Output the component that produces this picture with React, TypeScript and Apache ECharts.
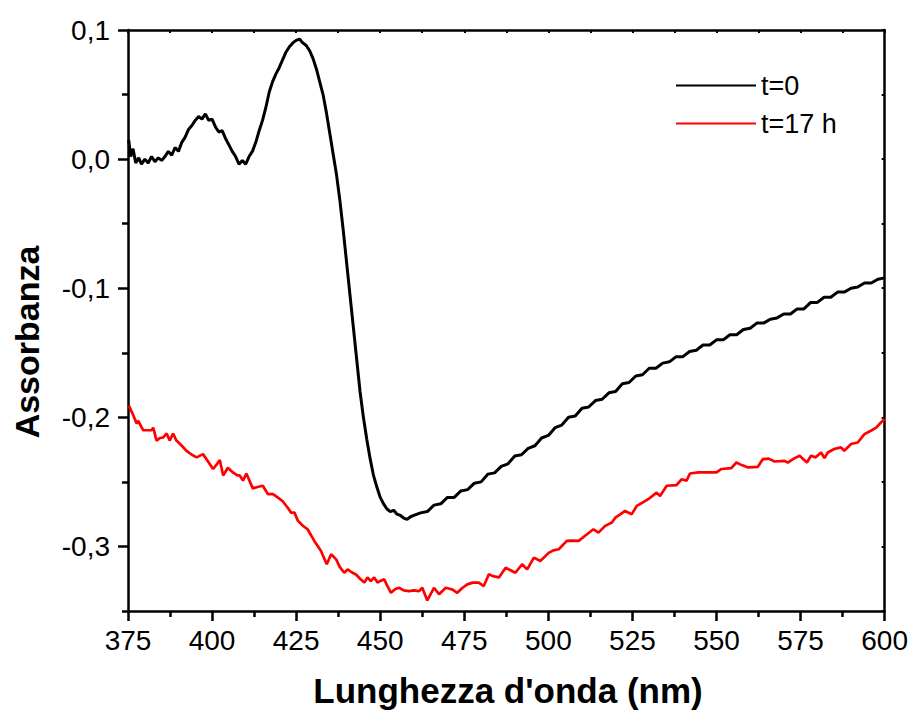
import React, { useEffect, useRef } from "react";
import * as echarts from "echarts";

const xTicks = [375, 400, 425, 450, 475, 500, 525, 550, 575, 600];
const yTickValues = [-0.3, -0.2, -0.1, 0, 0.1];
const yMinorTickValues = [-0.35, -0.25, -0.15, -0.05, 0.05];
const seriesNames = ["t=0", "t=17 h"];

const blackWavelength = [
  375.2, 375.8, 376.5, 377.3, 378.2, 379, 380, 381, 382, 383, 384, 385, 386, 387, 388, 389, 390,
  391, 392, 393, 394, 395, 396, 397, 398, 399, 400, 401, 402, 403, 404, 405, 406, 407, 408, 409,
  410, 411, 412, 413, 414, 415, 416, 417, 418, 419, 420, 421, 422, 423, 424, 425, 426, 427, 428,
  429, 430, 431, 432, 433, 434, 435, 436, 437, 438, 439, 440, 441, 442, 443, 444, 445, 446, 447,
  448, 449, 450, 451, 452, 453, 454, 455, 456, 457, 458, 459, 460,
  462, 464, 466, 468, 470, 472, 474, 476, 478, 480, 482, 484, 486, 488, 490, 492, 494, 496, 498, 500,
  502, 504, 506, 508, 510, 512, 514, 516, 518, 520, 522, 524, 526, 528, 530, 532, 534, 536, 538, 540,
  542, 544, 546, 548, 550, 552, 554, 556, 558, 560, 562, 564, 566, 568, 570, 572, 574, 576, 578, 580,
  582, 584, 586, 588, 590, 592, 594, 596, 598, 600,
];
const blackAbsorbance = [
  0.015, 0.002, 0.008, -0.003, 0.001, -0.004, 0.0, -0.003, 0.002, -0.002,
  0.001, -0.001, 0.002, 0.006, 0.003, 0.009, 0.006, 0.013, 0.017, 0.023,
  0.026, 0.03, 0.033, 0.031, 0.035, 0.03, 0.031, 0.025, 0.021, 0.022,
  0.016, 0.011, 0.006, 0.002, -0.004, -0.001, -0.004, 0.002, 0.006, 0.013,
  0.022, 0.03, 0.04, 0.052, 0.06, 0.066, 0.071, 0.077, 0.083, 0.087,
  0.09, 0.092, 0.093, 0.09, 0.088, 0.084, 0.078, 0.07, 0.06, 0.05,
  0.036, 0.02, 0.004, -0.012, -0.032, -0.055, -0.08, -0.105, -0.13, -0.155,
  -0.18, -0.2, -0.217, -0.232, -0.245, -0.254, -0.262, -0.267, -0.271, -0.273,
  -0.272, -0.275, -0.276, -0.278, -0.279, -0.277, -0.276,
  -0.274, -0.273, -0.268, -0.267, -0.262, -0.262, -0.257, -0.256, -0.251, -0.25,
  -0.244, -0.243, -0.238, -0.236, -0.23, -0.229, -0.224, -0.222, -0.216, -0.214,
  -0.208, -0.206, -0.2, -0.199, -0.193, -0.192, -0.187, -0.186, -0.181, -0.18,
  -0.174, -0.173, -0.168, -0.167, -0.162, -0.162, -0.158, -0.157, -0.153, -0.153,
  -0.149, -0.148, -0.144, -0.144, -0.14, -0.14, -0.136, -0.136, -0.132, -0.131,
  -0.127, -0.127, -0.124, -0.123, -0.12, -0.12, -0.116, -0.116, -0.111, -0.111,
  -0.107, -0.107, -0.103, -0.103, -0.1, -0.099, -0.096, -0.096, -0.093, -0.092,
];

const redWavelength = [
  375.3, 376.5, 377.6, 378, 379.5, 381, 382, 382.5, 383.5, 384.5, 385.5, 386.5, 387.4, 388.4, 389.4,
  391, 392.4, 394, 395.4, 397.3, 399, 400.3, 401.5, 402.3, 403.3, 404.7, 406.2, 407.5, 408.2, 409.2,
  410.2, 412.1, 413.5, 415.1, 416.6, 418.1, 419.5, 421, 422.5, 423.5, 424.5, 425.5, 427, 428.4, 430.4,
  432.4, 434.1, 435.4, 436.9, 438, 439.3, 440.3, 441.5, 442.8, 444, 445.3, 446.2, 447.2, 448.2, 449.2,
  450.2, 451.2, 452.2, 453.2, 454.5, 455.6, 457, 458.6, 460, 461.6, 462.5, 464, 466, 467.5, 469.5,
  471.4, 472.9, 474.5, 475.9, 477.5, 479.3, 480.8, 482.3, 483.5, 485.3, 487.3, 490.2, 492.2, 493.7,
  495.7, 497.6, 500.1, 501.5, 503.1, 505.5, 507, 509, 511.5, 513.4, 514.9, 516.9, 518.9, 519.9,
  521.5, 522.8, 524.8, 526.3, 528, 529.7, 532.2, 533.2, 535.2, 538.1, 539.6, 541.1, 542.1, 544.6,
  547, 550, 551.5, 554.4, 555.9, 557.5, 559.4, 562.3, 563.8, 565.5, 567.3, 570.2, 571.2, 573, 574.7,
  576.9, 578.1, 579.5, 581.1, 582.1, 583.1, 585, 587, 588, 590, 592, 594, 595.9, 597.5, 598.9, 600,
];
const redAbsorbance = [
  -0.191, -0.198, -0.205, -0.2026, -0.21, -0.21, -0.21, -0.208, -0.218, -0.216, -0.2156, -0.2125, -0.218, -0.2125, -0.218,
  -0.222, -0.226, -0.229, -0.231, -0.2285, -0.235, -0.24, -0.236, -0.233, -0.245, -0.239, -0.2427, -0.245, -0.245, -0.249,
  -0.2435, -0.255, -0.254, -0.253, -0.2595, -0.2595, -0.262, -0.265, -0.27, -0.2738, -0.2738, -0.28, -0.284, -0.2867, -0.2957,
  -0.3035, -0.3138, -0.306, -0.31, -0.316, -0.3204, -0.3178, -0.32, -0.3217, -0.325, -0.328, -0.324, -0.3268, -0.324, -0.328,
  -0.3265, -0.3255, -0.331, -0.3359, -0.333, -0.332, -0.334, -0.3346, -0.334, -0.3346, -0.332, -0.3418, -0.332, -0.337, -0.332,
  -0.3333, -0.3359, -0.332, -0.3294, -0.328, -0.328, -0.3307, -0.3216, -0.323, -0.324, -0.3165, -0.3204, -0.3138, -0.3178,
  -0.3087, -0.3113, -0.305, -0.303, -0.3022, -0.2957, -0.2955, -0.2957, -0.2906, -0.2867, -0.2893, -0.2841, -0.2815, -0.2777,
  -0.275, -0.2725, -0.275, -0.2686, -0.266, -0.2634, -0.2583, -0.2609, -0.253, -0.2525, -0.248, -0.249, -0.2435, -0.2427,
  -0.2427, -0.2427, -0.24, -0.2393, -0.235, -0.237, -0.2388, -0.2383, -0.2323, -0.232, -0.2342, -0.2337, -0.235, -0.232, -0.2298,
  -0.235, -0.2298, -0.231, -0.2272, -0.2316, -0.2272, -0.2245, -0.2233, -0.2259, -0.2207, -0.2195, -0.213, -0.2104, -0.208, -0.204, -0.2013,
];

const FONT = "'Liberation Sans', Arial, sans-serif";

export default function App() {
  const ref = useRef<HTMLDivElement>(null);
  useEffect(() => {
    if (!ref.current) return;
    const chart = echarts.init(ref.current, null, { renderer: "svg" });
    const black = blackWavelength.map((x, i) => [x, blackAbsorbance[i]]);
    const red = redWavelength.map((x, i) => [x, redAbsorbance[i]]);
    const axisLine = { show: true, onZero: false, lineStyle: { color: "#000", width: 2.5 } };
    chart.setOption({
      animation: false,
      backgroundColor: "#fff",
      grid: { left: 128, right: 24, top: 30, bottom: 100 },
      legend: {
        show: true,
        left: 670,
        top: 67,
        orient: "vertical",
        itemWidth: 80,
        itemHeight: 26,
        itemGap: 11,
        data: seriesNames,
        itemStyle: { opacity: 0 },
        textStyle: { fontFamily: FONT, fontSize: 27, color: "#000" },
      },
      xAxis: [
        {
          type: "value",
          position: "bottom",
          min: xTicks[0],
          max: xTicks[xTicks.length - 1],
          interval: 25,
          axisLine,
          axisTick: { show: true, inside: false, length: 10, lineStyle: { width: 2.5, color: "#000" } },
          minorTick: { show: true, splitNumber: 2, length: 6, lineStyle: { width: 2.5, color: "#000" } },
          axisLabel: { margin: 15, fontFamily: FONT, fontSize: 28, color: "#000" },
          splitLine: { show: false },
        },
        {
          type: "value",
          position: "top",
          min: xTicks[0],
          max: xTicks[xTicks.length - 1],
          interval: 12.5,
          axisLine,
          axisTick: { show: true, inside: true, length: 3, lineStyle: { width: 2, color: "#000" } },
          axisLabel: { show: false },
          splitLine: { show: false },
        },
      ],
      yAxis: [
        {
          type: "value",
          position: "left",
          min: -0.35,
          max: 0.1,
          axisLine,
          axisTick: {
            show: true,
            inside: false,
            length: 10,
            customValues: yTickValues,
            lineStyle: { width: 2.5, color: "#000" },
          },
          axisLabel: {
            margin: 18,
            customValues: yTickValues,
            fontFamily: FONT,
            fontSize: 28,
            color: "#000",
            formatter: (v: number) => v.toFixed(1).replace(".", ","),
          },
          splitLine: { show: false },
        },
        {
          type: "value",
          position: "left",
          min: -0.35,
          max: 0.1,
          axisLine: { show: false, onZero: false },
          axisTick: {
            show: true,
            inside: false,
            length: 6,
            customValues: yMinorTickValues,
            lineStyle: { width: 2.5, color: "#000" },
          },
          axisLabel: { show: false },
          splitLine: { show: false },
        },
        {
          type: "value",
          position: "right",
          min: -0.35,
          max: 0.1,
          axisLine,
          axisTick: {
            show: true,
            inside: true,
            length: 3,
            customValues: [...yTickValues, ...yMinorTickValues],
            lineStyle: { width: 2, color: "#000" },
          },
          axisLabel: { show: false },
          splitLine: { show: false },
        },
      ],
      graphic: [
        {
          type: "text",
          x: 508,
          y: 690,
          style: {
            text: "Lunghezza d'onda (nm)",
            fontFamily: FONT,
            fontWeight: "bold",
            fontSize: 35,
            fill: "#000",
            align: "center",
            verticalAlign: "middle",
          },
        },
        {
          type: "text",
          x: 27,
          y: 342,
          rotation: Math.PI / 2,
          style: {
            text: "Assorbanza",
            fontFamily: FONT,
            fontWeight: "bold",
            fontSize: 34,
            fill: "#000",
            align: "center",
            verticalAlign: "middle",
          },
        },
      ],
      series: [
        {
          name: seriesNames[0],
          type: "line",
          xAxisIndex: 0,
          yAxisIndex: 0,
          data: black,
          symbol: "none",
          lineStyle: { color: "#000", width: 3 },
          itemStyle: { color: "#000" },
        },
        {
          name: seriesNames[1],
          type: "line",
          xAxisIndex: 0,
          yAxisIndex: 0,
          data: red,
          symbol: "none",
          lineStyle: { color: "#ff0000", width: 2.7 },
          itemStyle: { color: "#ff0000" },
        },
      ],
    });
    return () => chart.dispose();
  }, []);
  return (
    <div
      ref={ref}
      style={{ position: "fixed", left: 0, top: 0, width: 911, height: 711, background: "#fff" }}
    />
  );
}
